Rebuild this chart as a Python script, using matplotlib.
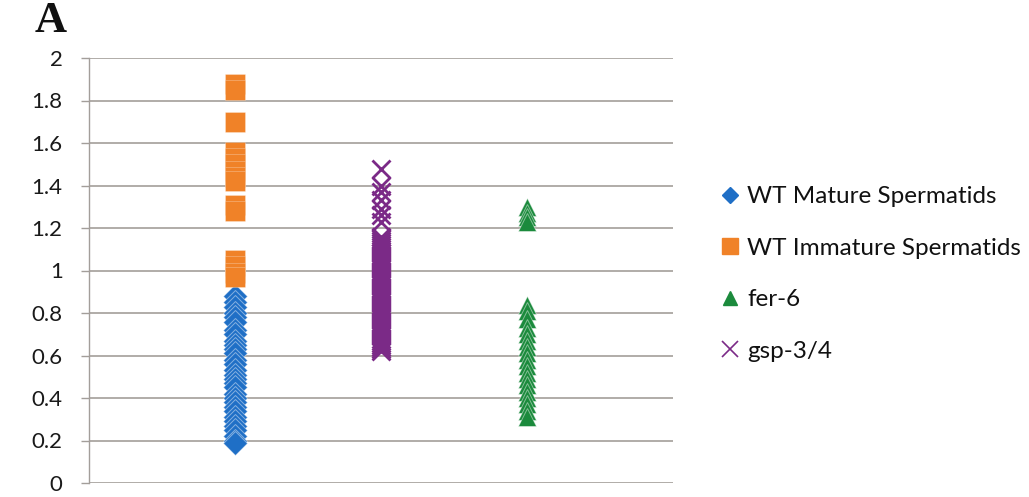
import matplotlib.pyplot as plt
from matplotlib.lines import Line2D

plt.rcParams['font.family'] = ['Lato', 'DejaVu Sans']

# Ratio per spermatid, grouped by genotype
wt_mature = [0.88, 0.85, 0.83, 0.80, 0.78, 0.76, 0.72, 0.70, 0.67, 0.65, 0.63, 0.61,
             0.58, 0.56, 0.53, 0.51, 0.49, 0.47, 0.45, 0.42, 0.40, 0.38, 0.36, 0.34,
             0.31, 0.29, 0.27, 0.25, 0.22, 0.20, 0.19]
wt_immature = [1.88, 1.85, 1.70, 1.56, 1.53, 1.50, 1.47, 1.44, 1.42, 1.31, 1.28,
               1.05, 1.02, 0.99, 0.97]
fer6 = [1.30, 1.27, 1.25, 1.23, 0.84, 0.81, 0.77, 0.73, 0.70, 0.67, 0.64, 0.61,
        0.58, 0.55, 0.52, 0.49, 0.46, 0.43, 0.40, 0.37, 0.34, 0.31]
gsp34 = [1.48, 1.40, 1.37, 1.33, 1.29, 1.26, 1.23, 1.16, 1.15, 1.14, 1.13, 1.12,
         1.11, 1.10, 1.09, 1.08, 1.07, 1.06, 1.05, 1.04, 1.03, 1.02, 1.01, 1.00,
         0.99, 0.98, 0.97, 0.96, 0.95, 0.94, 0.93, 0.92, 0.91, 0.90, 0.89, 0.88,
         0.87, 0.86, 0.85, 0.84, 0.83, 0.82, 0.81, 0.80, 0.79, 0.78, 0.77, 0.76,
         0.75, 0.74, 0.73, 0.72, 0.71, 0.70, 0.69, 0.68, 0.67, 0.66, 0.65, 0.64,
         0.63, 0.62]

labels = ['WT Mature Spermatids', 'WT Immature Spermatids', 'fer-6', 'gsp-3/4']
yticks = [0, 0.2, 0.4, 0.6, 0.8, 1, 1.2, 1.4, 1.6, 1.8, 2]
ytick_labels = ['0', '0.2', '0.4', '0.6', '0.8', '1', '1.2', '1.4', '1.6', '1.8', '2']

blue = '#1f6fc6'
orange = '#f08228'
green = '#1b8a3c'
purple = '#7b2a87'
grid_col = '#a39e9a'
edge = (1, 1, 1, 0.45)

fig = plt.figure(figsize=(10.29, 4.97), dpi=100)
ax = fig.add_axes([89 / 1029, 14 / 497, 584 / 1029, 425 / 497])

ax.plot([1] * len(wt_mature), wt_mature, ls='none', marker='D', ms=12,
        mfc=blue, mec=edge, mew=0.7)
ax.plot([1] * len(wt_immature), wt_immature, ls='none', marker='s', ms=14.8,
        mfc=orange, mec=(1, 1, 1, 0.3), mew=0.6)
ax.plot([3] * len(fer6), fer6, ls='none', marker='^', ms=13.5,
        mfc=green, mec=edge, mew=0.7)
ax.plot([2] * len(gsp34), gsp34, ls='none', marker='x', ms=13.5,
        mec=purple, mew=2.0)

ax.set_xlim(0, 4)
ax.set_ylim(0, 2)
ax.set_xticks([])
ax.set_yticks(yticks)
ax.set_yticklabels(ytick_labels)
ax.yaxis.grid(True, color=grid_col, lw=1.2)
ax.set_axisbelow(True)
for side in ['top', 'right', 'bottom']:
    ax.spines[side].set_visible(False)
ax.spines['left'].set_color(grid_col)
ax.spines['left'].set_linewidth(1.0)
ax.tick_params(axis='y', length=6, width=1.0, color=grid_col, pad=13,
               labelsize=16, labelcolor='#1a1a1a')

handles = [
    Line2D([], [], ls='none', marker='D', ms=8, mfc=blue, mec=blue),
    Line2D([], [], ls='none', marker='s', ms=12, mfc=orange, mec=orange),
    Line2D([], [], ls='none', marker='^', ms=10, mfc=green, mec=green),
    Line2D([], [], ls='none', marker='x', ms=12, mec=purple, mew=1.2),
]
fig.legend(handles, labels, loc='center left',
           bbox_to_anchor=(711 / 1029, 1 - 274 / 497),
           frameon=False, fontsize=17.5, handlelength=0.8, handletextpad=0.3,
           labelspacing=1.25, borderaxespad=0, labelcolor='#111111')

fig.text(35 / 1029, 1 - 21 / 497, 'A', family='Liberation Serif', weight='bold',
         fontsize=32, va='center', ha='left', color='#111111')

fig.savefig('out.png', dpi=100)
